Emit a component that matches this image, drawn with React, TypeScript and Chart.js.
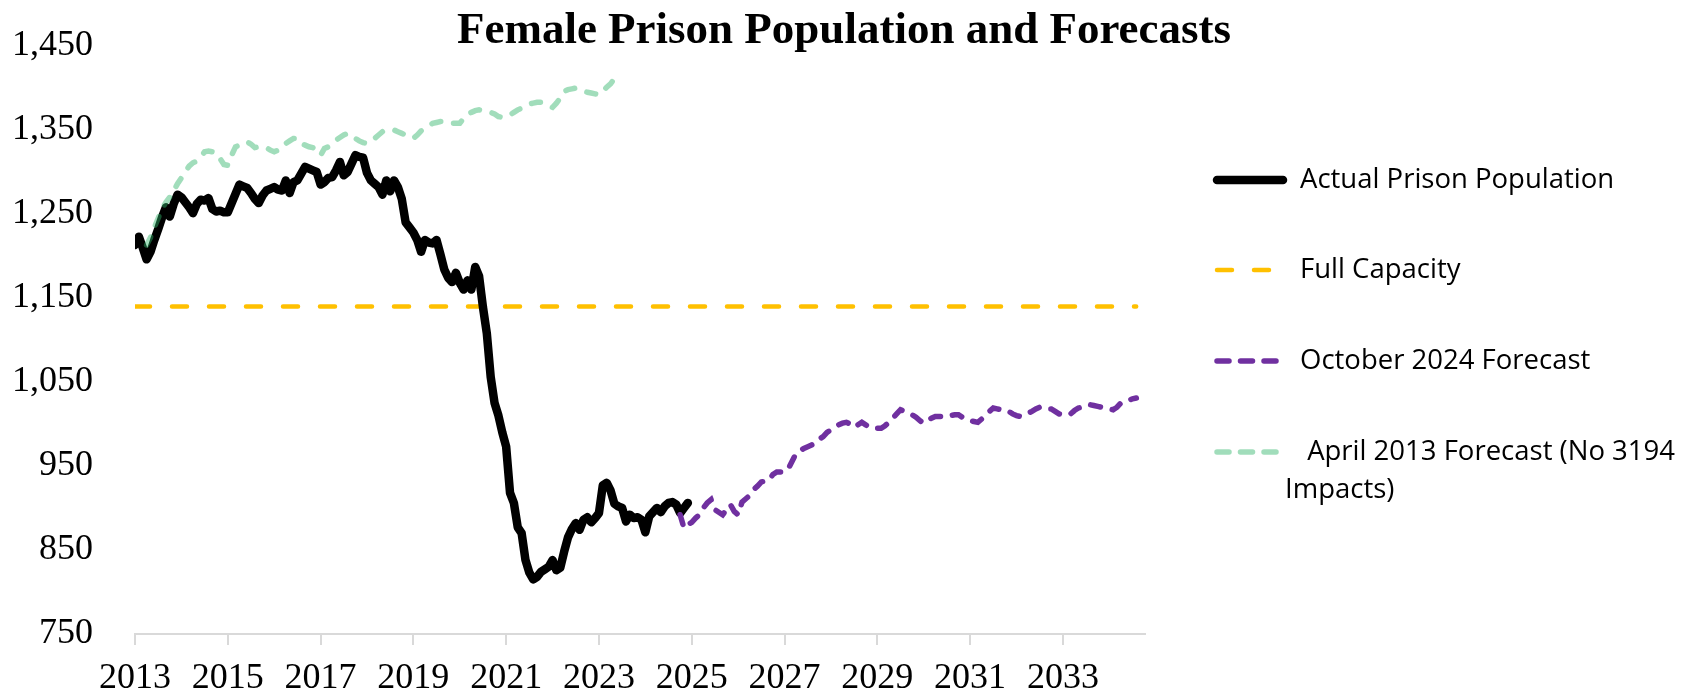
import React, { useEffect, useRef } from "react";
import { Chart, registerables } from "chart.js";

Chart.register(...registerables);

// ---------- data ----------
const chartTitle = "Female Prison Population and Forecasts";
const xTickYears = [2013, 2015, 2017, 2019, 2021, 2023, 2025, 2027, 2029, 2031, 2033];
const yTickValues = [750, 850, 950, 1050, 1150, 1250, 1350, 1450];
const xMin = 2013;
const xMax = 2034.77;

// Actual prison population, monthly from Jan 2013
const actualStartYear = 2013;
const actualStartMonth = 0;
const actualValues = [
  1213, 1223, 1210, 1196, 1205, 1219, 1232, 1246, 1258, 1247, 1262, 1273,
  1270, 1264, 1258, 1251, 1262, 1267, 1266, 1269, 1256, 1253, 1254, 1252,
  1252, 1263, 1274, 1285, 1283, 1281, 1275, 1268, 1263, 1272, 1278, 1280,
  1282, 1279, 1278, 1290, 1275, 1288, 1290, 1298, 1306, 1304, 1302, 1300,
  1285, 1288, 1293, 1294, 1302, 1312, 1296, 1300, 1310, 1320, 1318, 1317,
  1299, 1290, 1286, 1282, 1273, 1290, 1277, 1290, 1282, 1268, 1240, 1234,
  1228, 1219, 1205, 1219, 1216, 1215, 1219, 1202, 1184, 1174, 1169, 1180,
  1168, 1160, 1171, 1160, 1187, 1176, 1139, 1108, 1056, 1025, 1010, 990,
  973, 918, 906, 877, 870, 838, 823, 815, 818, 824, 827, 830,
  838, 826, 829, 848, 865, 875, 882, 874, 886, 889, 883, 888,
  894, 927, 930, 921, 905, 902, 900, 884, 892, 888, 889, 886,
  871, 890, 895, 900, 895, 902, 906, 907, 904, 894, 900, 906,
];

// Full capacity
const capacityLabel = "Full Capacity";
const capacityValue = 1140;
const capacityFrom = 2013;
const capacityTo = 2034.58;

// October 2024 forecast, monthly from Oct 2024
const octStartYear = 2024;
const octStartMonth = 9;
const octValues = [
  892, 876, 880, 883, 888, 892, 900, 906, 910, 898, 895, 892,
  898, 904, 896, 892, 907, 911, 915, 922, 926, 931, 932, 933,
  940, 943, 943, 943, 947, 956, 965, 968, 971, 973, 975, 977,
  982, 985, 990, 993, 996, 999, 1001, 1002, 1000, 996, 999, 1002,
  999, 996, 995, 995, 995, 998, 1002, 1007, 1012, 1017, 1015, 1013,
  1011, 1008, 1004, 1001, 1004, 1007, 1009, 1009, 1009, 1009, 1010, 1011,
  1011, 1008, 1005, 1004, 1003, 1002, 1006, 1011, 1015, 1019, 1018, 1017,
  1017, 1015, 1012, 1010, 1009, 1011, 1013, 1015, 1018, 1020, 1019, 1018,
  1018, 1015, 1012, 1011, 1011, 1012, 1016, 1019, 1020, 1022, 1023, 1022,
  1021, 1020, 1019, 1018, 1017, 1020, 1025, 1027, 1028, 1030, 1031,
];

// April 2013 forecast, monthly from Apr 2013
const aprStartYear = 2013;
const aprStartMonth = 3;
const aprValues = [
  1213, 1222, 1234, 1245, 1256, 1264, 1270, 1278, 1286,
  1293, 1300, 1307, 1311, 1313, 1318, 1324, 1325, 1324, 1323, 1316, 1309,
  1308, 1320, 1330, 1332, 1334, 1336, 1333, 1329, 1330, 1330, 1329, 1326,
  1324, 1326, 1332, 1334, 1337, 1340, 1340, 1334, 1332, 1330, 1329, 1324,
  1320, 1328, 1330, 1334, 1338, 1341, 1344, 1346, 1344, 1340, 1337, 1335,
  1334, 1337, 1340, 1344, 1348, 1350, 1350, 1350, 1348, 1346, 1344, 1342,
  1340, 1344, 1349, 1352, 1355, 1358, 1359, 1360, 1360, 1359, 1358, 1358,
  1358, 1364, 1369, 1371, 1373, 1374, 1373, 1372, 1371, 1369, 1366, 1365,
  1367, 1368, 1371, 1374, 1376, 1378, 1381, 1382, 1383, 1383, 1381, 1379,
  1377, 1382, 1388, 1396, 1398, 1399, 1400, 1398, 1396, 1395, 1394, 1393,
  1392, 1396, 1401, 1405, 1411, 1414, 1416,
];

const seriesLabels = [
  "Actual Prison Population",
  capacityLabel,
  "October 2024 Forecast",
  "April 2013 Forecast (No 3194 Impacts)",
];
const legendLines = [
  ["Actual Prison Population"],
  ["Full Capacity"],
  ["October 2024 Forecast"],
  [" April 2013 Forecast (No 3194", "Impacts)"],
];

// ---------- helpers ----------
function monthly(startYear: number, startMonth: number, values: number[]) {
  return values.map((v, k) => ({ x: startYear + (startMonth + k) / 12, y: v }));
}

const BLACK = "#000000";
const YELLOW = "#FFC000";
const PURPLE = "#7030A0";
const GREEN = "rgba(46,180,105,0.45)";
const SERIF = "'Liberation Serif', 'Times New Roman', serif";

const titlePlugin = {
  id: "customTitle",
  afterDraw(chart: any) {
    const ctx = chart.ctx;
    ctx.save();
    ctx.font = `bold 45px ${SERIF}`;
    ctx.fillStyle = "#000";
    ctx.textAlign = "center";
    ctx.textBaseline = "alphabetic";
    ctx.fillText(chartTitle, 844, 43);
    ctx.restore();
  },
};

const legendPlugin = {
  id: "customLegend",
  afterDraw(chart: any) {
    const ctx = chart.ctx;
    const area = chart.chartArea;
    const sampleX = area.right + 72;
    const textX = area.right + 155;
    const rowY = [area.top + 134, area.top + 224, area.top + 315, area.top + 406];
    const styles = [
      { color: BLACK, width: 8.5, dash: [] as number[], len: 66 },
      { color: YELLOW, width: 4.5, dash: [15, 22], len: 53 },
      { color: PURPLE, width: 5.5, dash: [12, 11.5], len: 59 },
      { color: GREEN, width: 5.5, dash: [12, 11.5], len: 59 },
    ];
    ctx.save();
    styles.forEach((s, i) => {
      const y = rowY[i];
      ctx.beginPath();
      ctx.setLineDash(s.dash);
      ctx.lineCap = "round";
      ctx.lineWidth = s.width;
      ctx.strokeStyle = s.color;
      ctx.moveTo(sampleX, y);
      ctx.lineTo(sampleX + s.len, y);
      ctx.stroke();
      ctx.setLineDash([]);
      ctx.font = "27.5px 'Open Sans', Lato, sans-serif";
      ctx.fillStyle = "#000";
      ctx.textAlign = "left";
      ctx.textBaseline = "middle";
      legendLines[i].forEach((line, j) => {
        const tx = j === 0 ? textX : textX - 15;
        ctx.fillText(line, tx, y + j * 38);
      });
    });
    ctx.restore();
  },
};

export default function App() {
  const ref = useRef<HTMLCanvasElement | null>(null);

  useEffect(() => {
    document.body.style.margin = "0";
    const canvas = ref.current;
    if (!canvas) return;
    const chart = new Chart(canvas, {
      type: "line",
      data: {
        datasets: [
          {
            label: seriesLabels[3],
            data: monthly(aprStartYear, aprStartMonth, aprValues),
            borderColor: GREEN,
            borderWidth: 5.5,
            borderDash: [9, 13],
            borderCapStyle: "round",
            pointRadius: 0,
            order: 0,
          },
          {
            label: seriesLabels[2],
            data: monthly(octStartYear, octStartMonth, octValues),
            borderColor: PURPLE,
            borderWidth: 5.5,
            borderDash: [10, 12],
            borderCapStyle: "round",
            pointRadius: 0,
            order: 1,
          },
          {
            label: seriesLabels[0],
            data: monthly(actualStartYear, actualStartMonth, actualValues),
            borderColor: BLACK,
            borderWidth: 8.5,
            borderCapStyle: "round",
            borderJoinStyle: "round",
            pointRadius: 0,
            order: 2,
          },
          {
            label: seriesLabels[1],
            data: [
              { x: capacityFrom, y: capacityValue },
              { x: capacityTo, y: capacityValue },
            ],
            borderColor: YELLOW,
            borderWidth: 4.5,
            borderDash: [15, 22],
            borderCapStyle: "round",
            pointRadius: 0,
            order: 3,
          },
        ],
      },
      options: {
        animation: false,
        responsive: false,
        devicePixelRatio: 1,
        parsing: false,
        layout: { padding: { left: 12, top: 46, right: 537, bottom: 0 } },
        plugins: {
          legend: { display: false },
          title: { display: false },
          tooltip: { enabled: false },
        },
        scales: {
          x: {
            type: "linear",
            min: xMin,
            max: xMax,
            afterBuildTicks: (axis: any) => {
              axis.ticks = xTickYears.map((v) => ({ value: v }));
            },
            afterFit: (axis: any) => {
              axis.height = 60;
              axis.paddingTop = 0;
              axis.paddingBottom = 0;
            },
            grid: {
              display: true,
              drawOnChartArea: false,
              drawTicks: true,
              tickLength: 11,
              color: "#d9d9d9",
              lineWidth: 2,
            },
            border: { display: true, color: "#d9d9d9", width: 2 },
            ticks: {
              autoSkip: false,
              maxRotation: 0,
              padding: 12,
              color: "#000",
              font: { family: SERIF, size: 36 },
              callback: (v: any) => String(v),
            },
          },
          y: {
            type: "linear",
            min: 750,
            max: 1450,
            afterBuildTicks: (axis: any) => {
              axis.ticks = yTickValues.map((v) => ({ value: v }));
            },
            afterFit: (axis: any) => {
              axis.width = 123;
              axis.paddingTop = 0;
              axis.paddingBottom = 0;
            },
            grid: { display: false, drawTicks: false },
            border: { display: false },
            ticks: {
              padding: 42,
              color: "#000",
              font: { family: SERIF, size: 36 },
              callback: (v: any) => Number(v).toLocaleString("en-US"),
            },
          },
        },
      },
      plugins: [titlePlugin, legendPlugin],
    } as any);
    return () => chart.destroy();
  }, []);

  return (
    <canvas
      ref={ref}
      width={1682}
      height={694}
      style={{ display: "block", width: "1682px", height: "694px" }}
    />
  );
}
